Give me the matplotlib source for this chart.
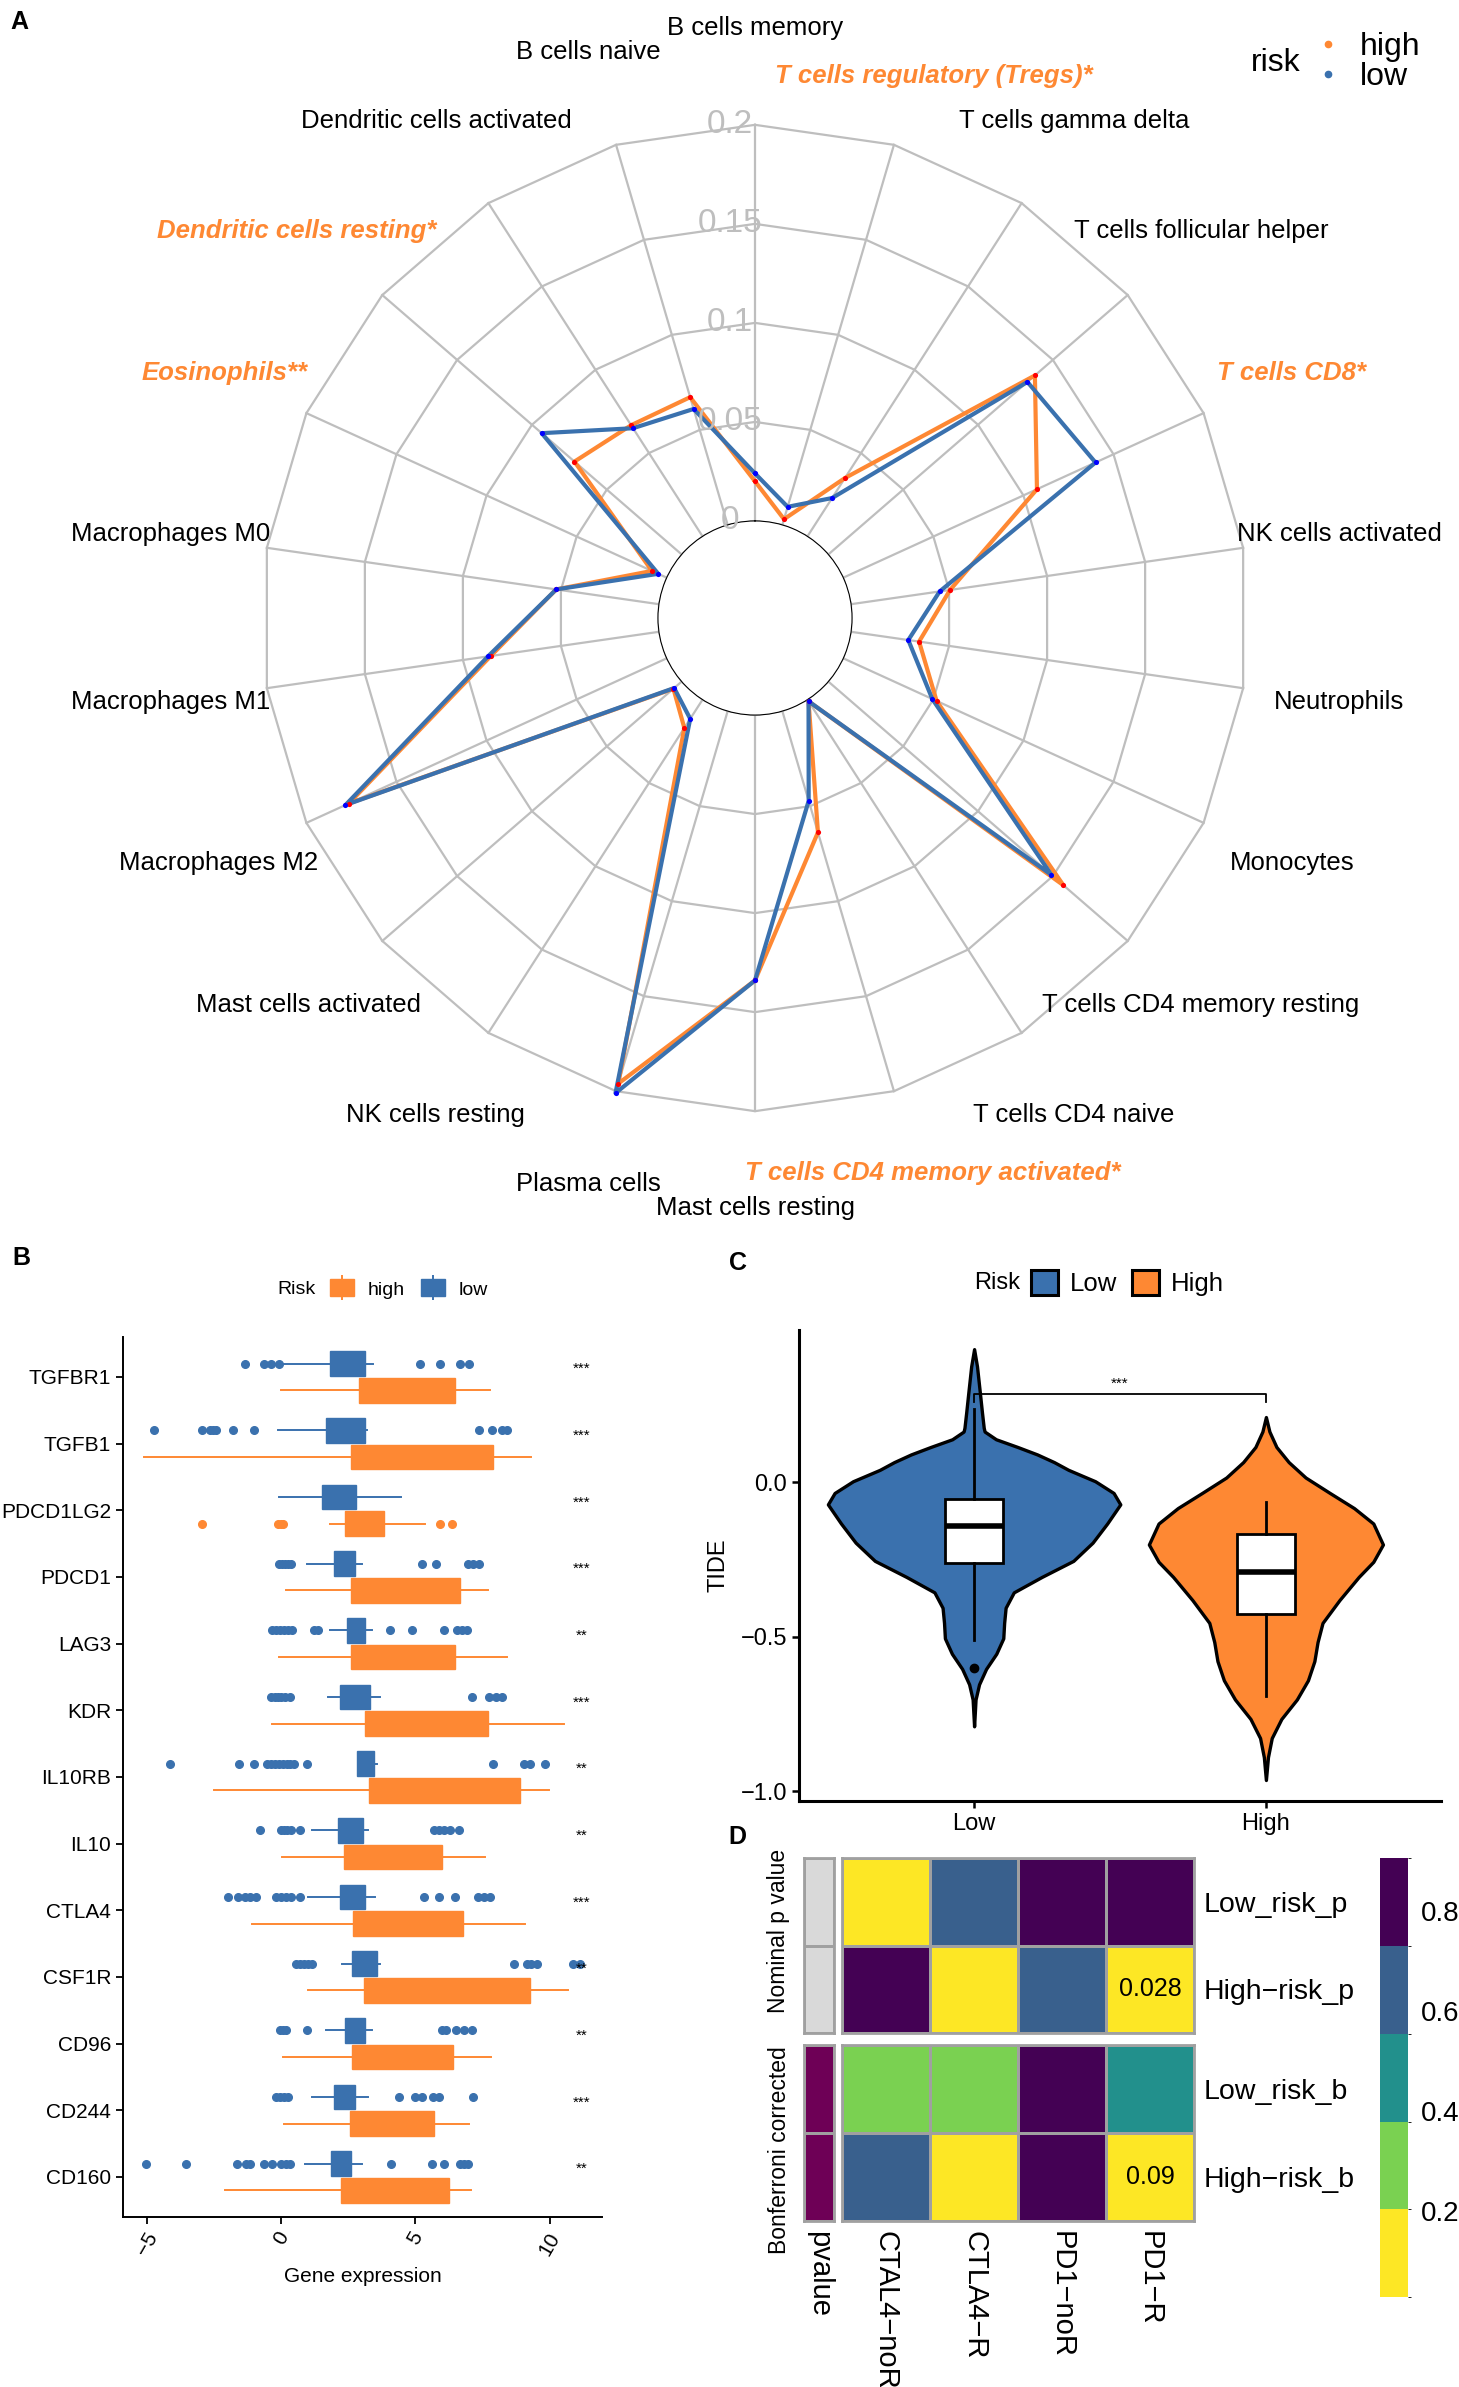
import numpy as np
import matplotlib
matplotlib.use("Agg")
import matplotlib.pyplot as plt
from matplotlib.patches import Patch
from matplotlib.lines import Line2D
from matplotlib.colors import ListedColormap, BoundaryNorm
import matplotlib.cm as cm
from matplotlib import transforms

plt.rcParams['font.family'] = ['Liberation Sans', 'DejaVu Sans']

W, H = 1459, 2387
BLUE = "#3A71AE"
ORANGE = "#FE8833"
GRID = "#BEBEBE"

# ---------------- panel A data (clockwise from top) ----------------
cells = ["B cells memory", "T cells regulatory (Tregs)*", "T cells gamma delta",
         "T cells follicular helper", "T cells CD8*", "NK cells activated",
         "Neutrophils", "Monocytes", "T cells CD4 memory resting",
         "T cells CD4 naive", "T cells CD4 memory activated*", "Mast cells resting",
         "Plasma cells", "NK cells resting", "Mast cells activated",
         "Macrophages M2", "Macrophages M1", "Macrophages M0", "Eosinophils**",
         "Dendritic cells resting*", "Dendritic cells activated", "B cells naive"]
high_frac = [0.020, 0.003, 0.035, 0.138, 0.1075, 0.0505, 0.0347, 0.0518, 0.157,
             0.001, 0.0638, 0.134, 0.196, 0.017, 0.0055, 0.1765, 0.0858, 0.0524,
             0.0082, 0.0716, 0.0667, 0.0672]
low_frac = [0.024, 0.0095, 0.023, 0.133, 0.140, 0.0452, 0.0292, 0.0494, 0.149,
            0.001, 0.0472, 0.134, 0.201, 0.0115, 0.005, 0.1783, 0.0872, 0.0524,
            0.0047, 0.0935, 0.0649, 0.061]
r_ticks = [0, 0.05, 0.1, 0.15, 0.2]
r_labels = ["0", "0.05", "0.1", "0.15", "0.2"]

# ---------------- panel B data ----------------
genes = ["TGFBR1", "TGFB1", "PDCD1LG2", "PDCD1", "LAG3", "KDR", "IL10RB",
         "IL10", "CTLA4", "CSF1R", "CD96", "CD244", "CD160"]
gene_sig = ["***", "***", "***", "***", "**", "***", "**", "**", "***", "**",
            "**", "***", "**"]
low_q1 = [1.83, 1.68, 1.53, 1.98, 2.45, 2.20, 2.82, 2.12, 2.18, 2.64, 2.39, 1.95, 1.84]
low_q3 = [3.11, 3.11, 2.80, 2.76, 3.10, 3.32, 3.45, 3.04, 3.13, 3.57, 3.11, 2.74, 2.58]
low_lo = [0.0, -0.12, -0.10, 0.96, 1.83, 1.74, 2.82, 1.14, 0.99, 2.27, 1.65, 1.14, 0.88]
low_hi = [3.42, 3.20, 4.45, 3.02, 3.38, 3.67, 3.57, 3.23, 3.50, 3.69, 3.38, 3.22, 3.02]
low_med = [2.5, 2.4, 2.2, 2.35, 2.75, 2.7, 3.1, 2.6, 2.6, 3.1, 2.7, 2.3, 2.2]
low_out = [
    [-1.37, -0.66, -0.37, -0.07, 5.16, 5.90, 6.67, 7.00],
    [-4.76, -2.96, -2.65, -2.55, -2.43, -1.81, -1.00, 7.37, 7.85, 8.22, 8.40],
    [],
    [-0.07, 0.04, 0.15, 0.25, 0.37, 5.24, 5.78, 6.96, 7.15, 7.37],
    [-0.34, -0.2, -0.05, 0.1, 0.25, 0.40, 1.20, 1.36, 4.06, 4.88, 6.06, 6.55, 6.74, 6.93],
    [-0.37, -0.25, -0.12, 0.0, 0.15, 0.32, 7.09, 7.74, 8.00, 8.22],
    [-4.14, -1.56, -1.00, -0.52, -0.38, -0.25, -0.1, 0.05, 0.2, 0.33, 0.47, 0.96,
     7.88, 9.03, 9.25, 9.84],
    [-0.78, -0.01, 0.10, 0.22, 0.37, 0.69, 5.68, 5.88, 6.08, 6.27, 6.62],
    [-1.99, -1.60, -1.37, -1.15, -0.93, -0.19, -0.01, 0.18, 0.37, 0.69, 5.31, 5.86,
     6.49, 7.33, 7.55, 7.77],
    [0.55, 0.7, 0.85, 1.0, 1.14, 8.66, 9.17, 9.32, 9.51, 10.87, 11.14],
    [-0.04, 0.07, 0.18, 0.96, 6.00, 6.15, 6.52, 6.81, 7.11],
    [-0.19, -0.05, 0.1, 0.25, 4.38, 4.97, 5.24, 5.66, 5.88, 7.15],
    [-5.03, -3.55, -1.67, -1.30, -1.18, -0.66, -0.34, -0.01, 0.18, 0.32, 4.09, 5.63,
     6.05, 6.64, 6.81, 6.96],
]
high_q1 = [2.88, 2.60, 2.36, 2.60, 2.60, 3.10, 3.27, 2.33, 2.67, 3.08, 2.64, 2.55, 2.24]
high_q3 = [6.47, 7.88, 3.82, 6.65, 6.47, 7.70, 8.88, 5.97, 6.78, 9.28, 6.40, 5.68, 6.24]
high_lo = [0.0, -5.13, 1.81, 0.19, -0.07, -0.35, -2.52, 0.01, -1.11, 0.99, 0.07, 0.10, -2.11]
high_hi = [7.77, 9.32, 5.34, 7.70, 8.41, 10.55, 9.96, 7.60, 9.07, 10.68, 7.82, 7.00, 7.08]
high_med = [4.6, 5.2, 3.0, 4.6, 4.5, 5.4, 6.0, 4.1, 4.7, 6.0, 4.5, 4.1, 4.2]
high_out = [[], [], [-2.95, -0.12, 0.0, 0.07, 5.93, 6.37], [], [], [], [], [], [], [],
            [], [], []]

# ---------------- panel C data (violin outlines + box stats) ----------------
groups = ["Low", "High"]
low_vy = [0.432, 0.376, 0.289, 0.227, 0.177, 0.165, 0.140, 0.115, 0.091, 0.066, 0.041,
          0.004, -0.034, -0.071, -0.133, -0.195, -0.254, -0.306, -0.356, -0.406,
          -0.455, -0.505, -0.555, -0.604, -0.654, -0.703, -0.790]
low_vw = [0.0, 0.010, 0.020, 0.027, 0.033, 0.036, 0.075, 0.149, 0.216, 0.274, 0.323,
          0.415, 0.478, 0.501, 0.456, 0.406, 0.340, 0.232, 0.136, 0.108, 0.103, 0.100,
          0.076, 0.041, 0.017, 0.005, 0.0]
high_vy = [0.212, 0.165, 0.115, 0.066, 0.016, -0.034, -0.083, -0.133, -0.201, -0.257,
           -0.306, -0.381, -0.455, -0.517, -0.579, -0.641, -0.703, -0.766, -0.828,
           -0.890, -0.964]
high_vw = [0.0, 0.012, 0.036, 0.078, 0.136, 0.219, 0.302, 0.368, 0.401, 0.368, 0.318,
           0.252, 0.194, 0.177, 0.166, 0.144, 0.106, 0.053, 0.020, 0.007, 0.0]
tide_q1 = [-0.26, -0.427]
tide_med = [-0.141, -0.29]
tide_q3 = [-0.055, -0.166]
tide_lo = [-0.511, -0.691]
tide_hi = [0.239, -0.062]
tide_out = [[-0.602], []]

# ---------------- panel D data ----------------
submap_cols = ["CTAL4\u2212noR", "CTLA4\u2212R", "PD1\u2212noR", "PD1\u2212R"]
nominal_rows = ["Low_risk_p", "High\u2212risk_p"]
bonf_rows = ["Low_risk_b", "High\u2212risk_b"]
nominal_p = [[0.12, 0.62, 0.85, 0.88],
             [0.86, 0.15, 0.64, 0.028]]
bonf_p = [[0.30, 0.32, 0.90, 0.45],
          [0.60, 0.12, 0.90, 0.09]]
cbar_bounds = [0.028, 0.2036, 0.379, 0.555, 0.730, 0.906]
cbar_colors = ["#FDE725", "#7AD151", "#22908C", "#39608D", "#440154"]


def box(x0, y0, x1, y1):
    return [x0 / W, 1 - y1 / H, (x1 - x0) / W, (y1 - y0) / H]


fig = plt.figure(figsize=(W / 100, H / 100), dpi=100)

# ================= A: radar =================
axA = fig.add_axes(box(143, 6, 1367, 1230), projection="polar")
axA.set_theta_zero_location("N")
axA.set_theta_direction(-1)
axA.set_rorigin(-0.049)
axA.set_ylim(0, 0.26)
axA.grid(False)
axA.set_xticks([])
axA.set_yticks([])
for s in axA.spines.values():
    s.set_visible(False)
axA.patch.set_alpha(0)

n = len(cells)
theta = np.arange(n) * 2 * np.pi / n
tc = np.append(theta, theta[0])
for r in r_ticks:
    axA.plot(tc, [r] * (n + 1), color=GRID, lw=1.6, zorder=1)
for t in theta:
    axA.plot([t, t], [0, 0.2], color=GRID, lw=1.6, zorder=1)

axA.plot(tc, high_frac + high_frac[:1], color=ORANGE, lw=3, zorder=3)
axA.plot(tc, low_frac + low_frac[:1], color=BLUE, lw=3, zorder=4)
axA.scatter(theta, high_frac, color="red", s=14, zorder=5, linewidths=0)
axA.scatter(theta, low_frac, color="blue", s=14, zorder=6, linewidths=0)

off = transforms.offset_copy(axA.transData, fig=fig, x=-25, y=0, units="dots")
for r, lab in zip(r_ticks, r_labels):
    axA.text(0, r, lab, transform=off, ha="center", va="center", fontsize=24,
             color=GRID, zorder=7)

# small nudges for a few labels, in pixels
nudge = {1: (20, 0), 10: (15, 0), 18: (6, 0), 19: (-12, 0)}
for k, (t, name) in enumerate(zip(theta, cells)):
    rad = 0.249
    if k == 1:
        rad = 0.236
    elif k == 10:
        rad = 0.243
    dx, dy = nudge.get(k, (0, 0))
    tr = transforms.offset_copy(axA.transData, fig=fig, x=dx, y=dy, units="dots")
    if name.endswith("*"):
        axA.text(t, rad, name, transform=tr, ha="center", va="center", fontsize=18.5,
                 color=ORANGE, fontweight="bold", fontstyle="italic")
    else:
        axA.text(t, rad, name, transform=tr, ha="center", va="center", fontsize=18.5)

fig.text(1251 / W, 1 - 63 / H, "risk", fontsize=23, ha="left", va="center")
legA = fig.legend(
    [Line2D([], [], ls="", marker="o", ms=4.5, color=ORANGE),
     Line2D([], [], ls="", marker="o", ms=4.5, color=BLUE)],
    ["high", "low"], loc="center left", bbox_to_anchor=(1318 / W, 1 - 62 / H),
    frameon=False, fontsize=23, handlelength=0.6, handletextpad=0.7,
    labelspacing=0.0, borderpad=0, borderaxespad=0)

# ================= B: boxplots =================
axB = fig.add_axes(box(123, 1337, 602, 2217))
ypos = np.arange(len(genes))
low_stats, high_stats = [], []
for i in range(len(genes)):
    low_stats.append(dict(med=low_med[i], q1=low_q1[i], q3=low_q3[i],
                          whislo=low_lo[i], whishi=low_hi[i], fliers=low_out[i]))
    high_stats.append(dict(med=high_med[i], q1=high_q1[i], q3=high_q3[i],
                           whislo=high_lo[i], whishi=high_hi[i], fliers=high_out[i]))


def draw_bxp(ax, stats, pos, color, width):
    ax.bxp(stats, positions=pos, widths=width, orientation="horizontal",
           patch_artist=True, showcaps=False,
           boxprops=dict(facecolor=color, edgecolor=color, lw=1),
           whiskerprops=dict(color=color, lw=1.4),
           medianprops=dict(color=color, lw=1),
           flierprops=dict(marker="o", markerfacecolor=color, markeredgecolor=color,
                           markersize=5.5))


draw_bxp(axB, low_stats, ypos - 0.2, BLUE, 0.37)
draw_bxp(axB, high_stats, ypos + 0.2, ORANGE, 0.37)
for i, s in enumerate(gene_sig):
    axB.text(11.2, i - 0.12, s, ha="center", va="center", fontsize=11)

axB.set_xlim(-5.9, 11.95)
axB.set_ylim(len(genes) - 0.4, -0.6)
axB.set_yticks(ypos)
axB.set_yticklabels(genes, fontsize=15)
axB.set_xticks([-5, 0, 5, 10])
axB.set_xticklabels(["\u22125", "0", "5", "10"], fontsize=15, rotation=60,
                    ha="center", va="top")
axB.set_xlabel("Gene expression", fontsize=15, labelpad=6)
for side in ["top", "right"]:
    axB.spines[side].set_visible(False)
for side in ["left", "bottom"]:
    axB.spines[side].set_linewidth(1.4)
axB.tick_params(length=5, width=1.3)

fig.text(277 / W, 1 - 1290 / H, "Risk", fontsize=14, ha="left", va="center")
legB = fig.legend(
    [(Patch(facecolor=ORANGE, edgecolor=ORANGE),
      Line2D([], [], ls="", marker="|", ms=18, mew=1.4, color=ORANGE)),
     (Patch(facecolor=BLUE, edgecolor=BLUE),
      Line2D([], [], ls="", marker="|", ms=18, mew=1.4, color=BLUE))],
    ["high", "low"], loc="center left", bbox_to_anchor=(330 / W, 1 - 1289 / H),
    ncol=2, frameon=False, fontsize=14, handlelength=1.25, handleheight=0.95,
    handletextpad=0.7, columnspacing=0.8, borderpad=0, borderaxespad=0)

# ================= C: violin =================
axC = fig.add_axes(box(799, 1330, 1441, 1801))
violins = [(low_vy, low_vw, BLUE), (high_vy, high_vw, ORANGE)]
for k, (vy, vw, col) in enumerate(violins):
    vw = np.array(vw)
    axC.fill_betweenx(vy, k - vw, k + vw, facecolor=col, edgecolor="black", lw=2.4,
                      zorder=2)
c_stats = []
for k in range(2):
    c_stats.append(dict(med=tide_med[k], q1=tide_q1[k], q3=tide_q3[k],
                        whislo=tide_lo[k], whishi=tide_hi[k], fliers=tide_out[k]))
axC.bxp(c_stats, positions=[0, 1], widths=0.2, patch_artist=True, showcaps=False,
        boxprops=dict(facecolor="white", edgecolor="black", lw=2),
        whiskerprops=dict(color="black", lw=2),
        medianprops=dict(color="black", lw=4),
        flierprops=dict(marker="o", markerfacecolor="black", markeredgecolor="black",
                        markersize=6), zorder=3)
axC.plot([0, 0, 1, 1], [0.262, 0.287, 0.287, 0.262], color="black", lw=1.3)
axC.text(0.5, 0.298, "***", ha="center", va="bottom", fontsize=11)

axC.set_xlim(-0.6, 1.6)
axC.set_ylim(-1.032, 0.494)
axC.set_xticks([0, 1])
axC.set_xticklabels(groups, fontsize=17)
axC.set_yticks([-1.0, -0.5, 0.0])
axC.set_yticklabels(["\u22121.0", "\u22120.5", "0.0"], fontsize=17)
axC.set_ylabel("TIDE", fontsize=17, labelpad=8)
for side in ["top", "right"]:
    axC.spines[side].set_visible(False)
for side in ["left", "bottom"]:
    axC.spines[side].set_linewidth(2.2)
axC.tick_params(length=5, width=1.8)

fig.text(974 / W, 1 - 1283 / H, "Risk", fontsize=17, ha="left", va="center")
fig.legend([Patch(facecolor=BLUE, edgecolor="black", lw=2.2),
            Patch(facecolor=ORANGE, edgecolor="black", lw=2.2)],
           ["Low", "High"], loc="center left", bbox_to_anchor=(1031 / W, 1 - 1283 / H),
           ncol=2, frameon=False, fontsize=18.5, handlelength=1.05, handleheight=1.1,
           handletextpad=0.45, columnspacing=0.6, borderpad=0, borderaxespad=0)

# ================= D: submap heatmap =================
cmap = ListedColormap(cbar_colors)
norm = BoundaryNorm(cbar_bounds, cmap.N)
EDGE = "#A0A0A0"
annot_cmap = ListedColormap(["#D9D9D9", "#6E0056"])
blocks = [(nominal_p, nominal_rows, 1858, 2033, 0, "Nominal p value", 1931),
          (bonf_p, bonf_rows, 2045, 2221, 1, "Bonferroni corrected", 2150)]
for vals, rows, y0, y1, kind, title, ty in blocks:
    axh = fig.add_axes(box(842, y0, 1194, y1))
    arr = np.array(vals)
    axh.pcolormesh(arr, cmap=cmap, norm=norm, edgecolors=EDGE, linewidth=2)
    axh.set_xlim(0, arr.shape[1])
    axh.set_ylim(arr.shape[0], 0)
    for i in range(arr.shape[0]):
        for j in range(arr.shape[1]):
            if arr[i, j] < 0.1:
                axh.text(j + 0.5, i + 0.5, f"{arr[i, j]:g}", ha="center", va="center",
                         fontsize=18)
    axh.yaxis.tick_right()
    axh.set_yticks(np.arange(arr.shape[0]) + 0.5)
    axh.set_yticklabels(rows, fontsize=20.5)
    axh.tick_params(length=0, pad=7)
    if kind == 1:
        axh.set_xticks(np.arange(arr.shape[1]) + 0.5)
        axh.set_xticklabels(submap_cols, rotation=270, fontsize=21, va="top")
    else:
        axh.set_xticks([])
    for s in axh.spines.values():
        s.set_color(EDGE)
        s.set_linewidth(2)

    axa = fig.add_axes(box(804, y0, 834, y1))
    axa.pcolormesh(np.full((2, 1), kind), cmap=annot_cmap, vmin=0, vmax=1,
                   edgecolors=EDGE, linewidth=2)
    axa.set_xlim(0, 1)
    axa.set_ylim(2, 0)
    axa.set_yticks([])
    if kind == 1:
        axa.set_xticks([0.5])
        axa.set_xticklabels(["pvalue"], rotation=270, fontsize=21, va="top")
        axa.tick_params(length=0, pad=7)
    else:
        axa.set_xticks([])
    for s in axa.spines.values():
        s.set_color(EDGE)
        s.set_linewidth(2)
    fig.text(779 / W, 1 - ty / H, title, rotation=90, ha="center",
             va="center", fontsize=16.5)

cax = fig.add_axes(box(1380, 1858, 1408, 2297))
cb = fig.colorbar(cm.ScalarMappable(norm=norm, cmap=cmap), cax=cax,
                  ticks=[0.2, 0.4, 0.6, 0.8], spacing="proportional")
cb.outline.set_visible(False)
cb.ax.tick_params(length=0, labelsize=20, pad=9)
cb.ax.set_yticklabels(["0.2", "0.4", "0.6", "0.8"])

# panel letters
for lab, x, y in [("A", 10, 22), ("B", 12, 1258), ("C", 729, 1263), ("D", 728, 1837)]:
    fig.text(x / W, 1 - y / H, lab, fontsize=18, fontweight="bold", ha="left",
             va="center")

fig.savefig("out.png", dpi=100)
